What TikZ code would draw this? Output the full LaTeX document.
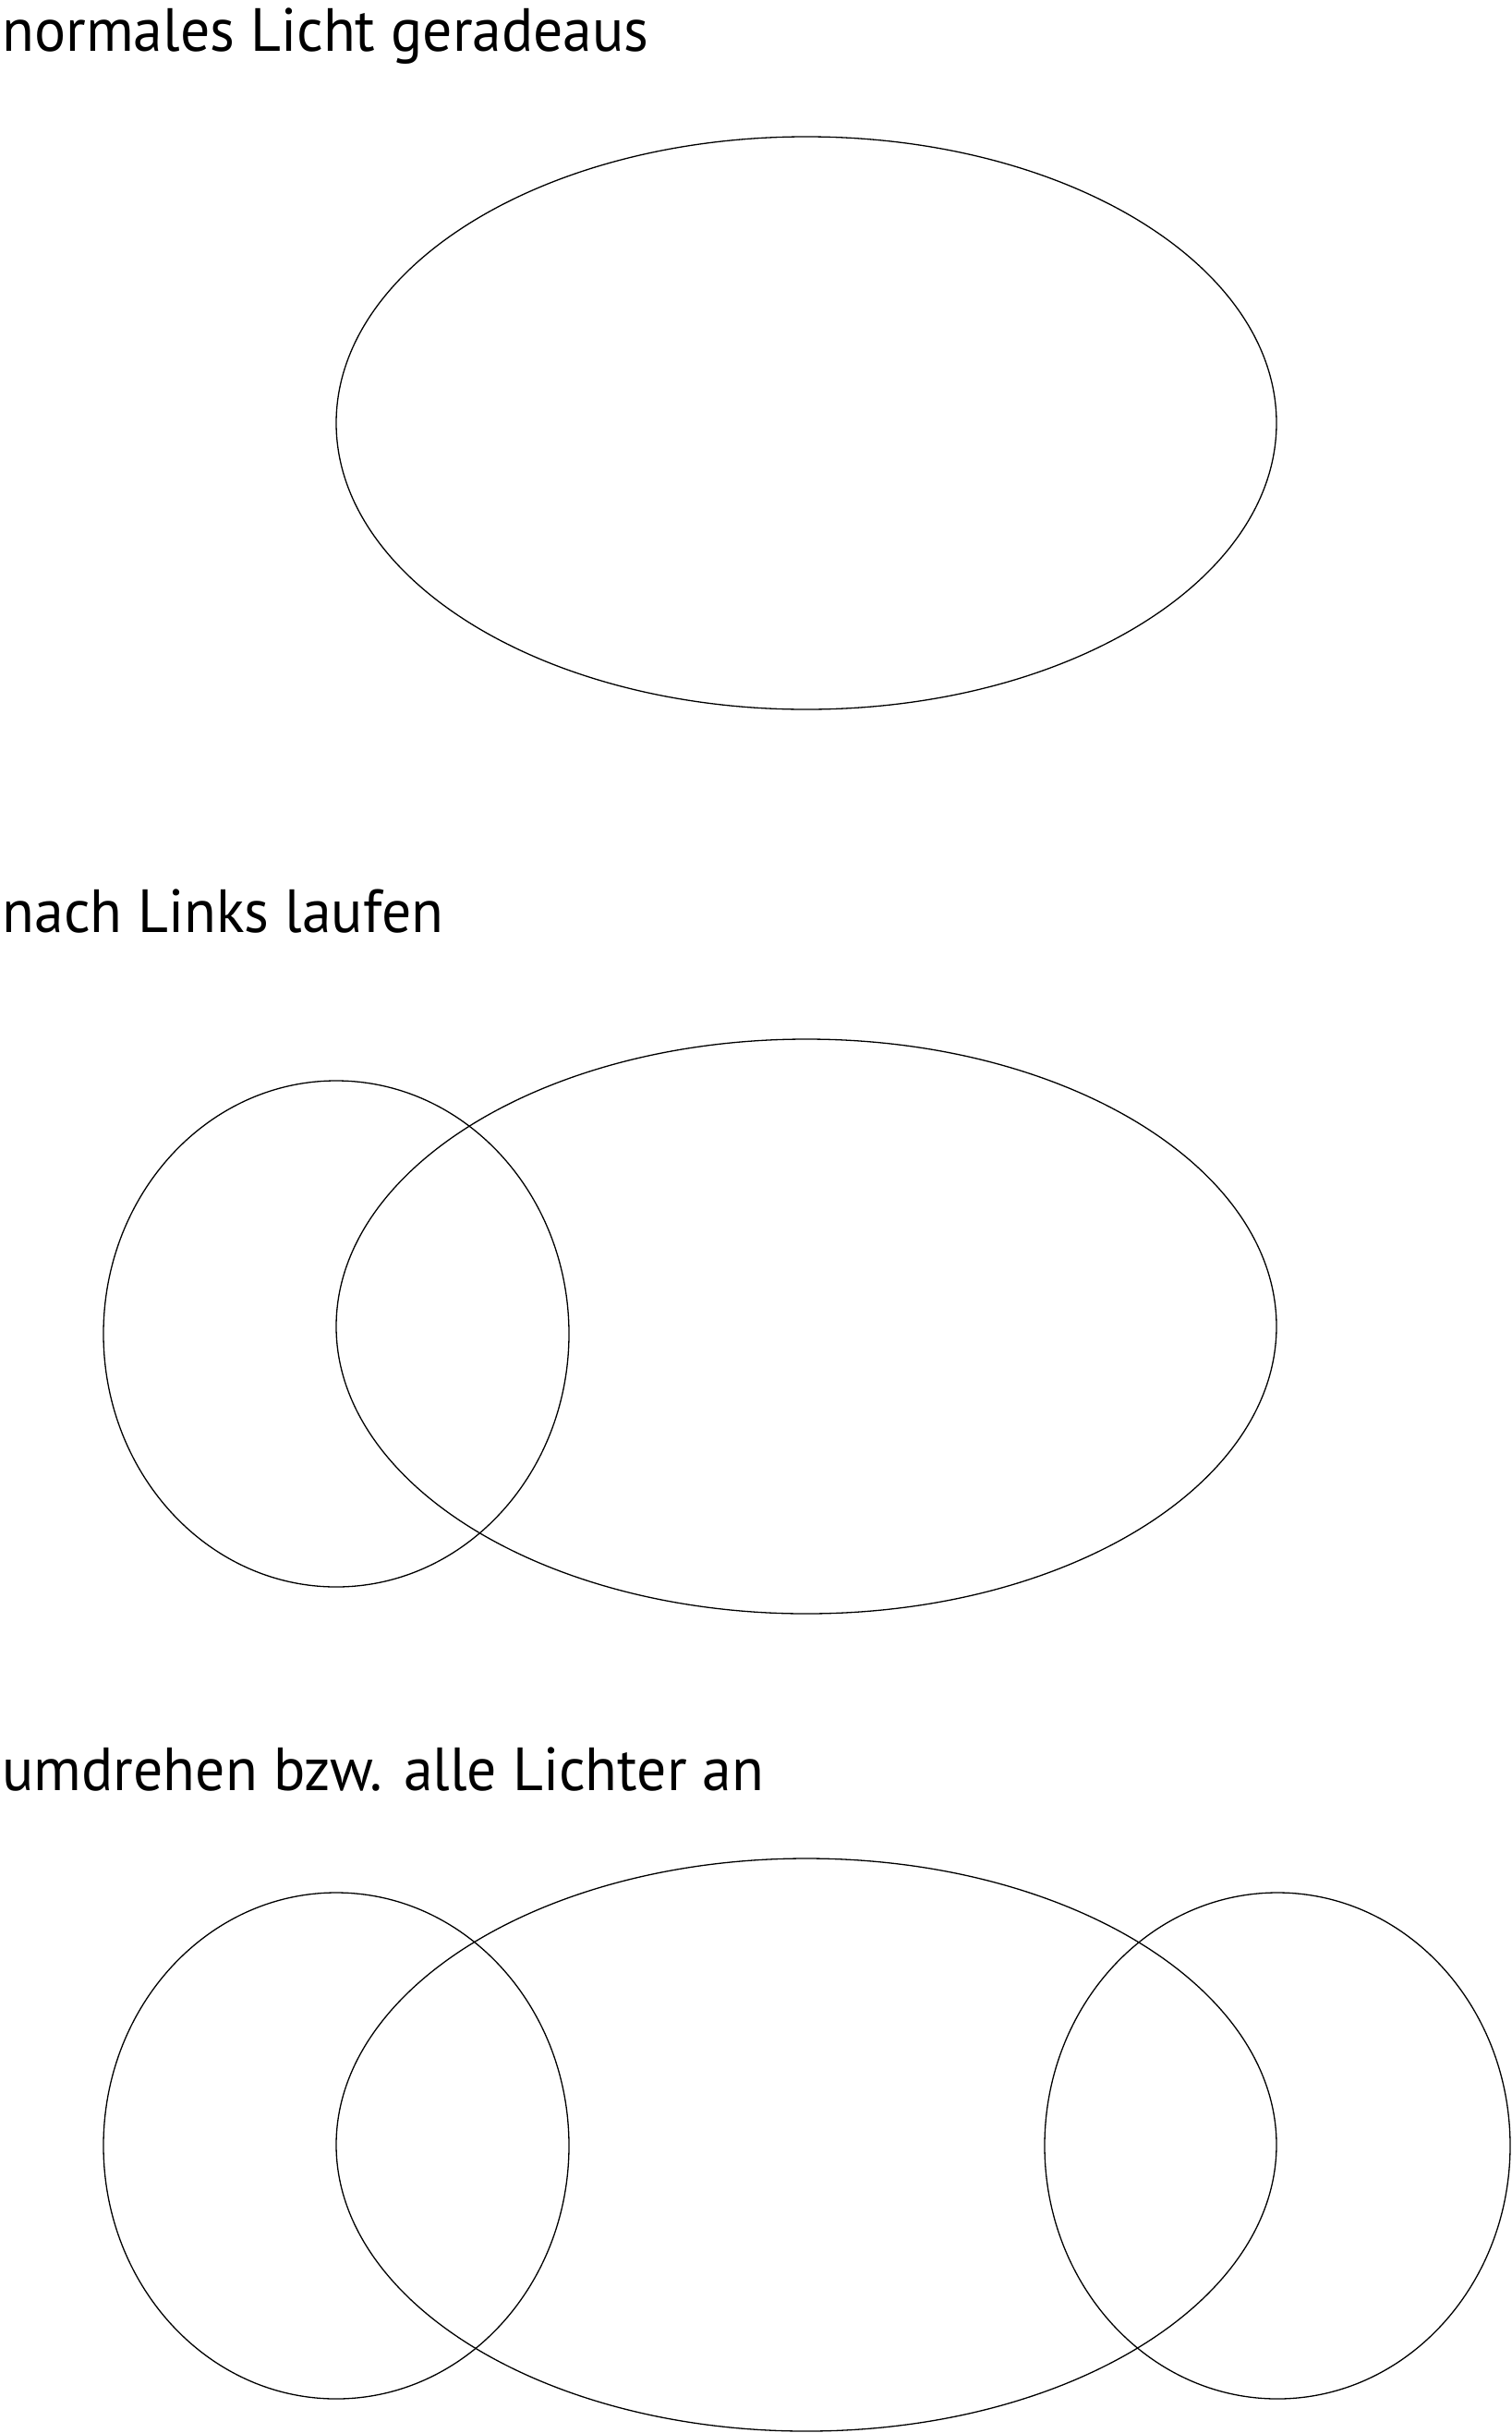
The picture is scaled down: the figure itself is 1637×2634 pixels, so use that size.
\documentclass[tikz,border=0pt]{standalone}
\usepackage{fontspec}
\setmainfont{PT Sans}[FakeStretch=0.965]

\begin{document}
\begin{tikzpicture}[x=1pt,y=-1pt,line width=1.3pt]
    \useasboundingbox (0,0) rectangle (1637,2634);
    \tikzset{titel/.style={anchor=base west,inner sep=0pt,font=\fontsize{66}{72}\selectfont}}

    \node[titel] (t1) at (2,55) {normales Licht geradeaus};
    \draw (873,458) ellipse [x radius=509, y radius=310];

    \node[titel] (t2) at (2,1009) {nach Links laufen};
    \draw (873,1436) ellipse [x radius=509, y radius=311];
    \draw (364,1444) ellipse [x radius=252, y radius=274];

    \node[titel] (t3) at (2,1938) {umdrehen bzw. alle Lichter an};
    \draw (873,2322) ellipse [x radius=509, y radius=310];
    \draw (364,2323) ellipse [x radius=252, y radius=274];
    \draw (1383,2323) ellipse [x radius=252, y radius=274];
\end{tikzpicture}
\end{document}
